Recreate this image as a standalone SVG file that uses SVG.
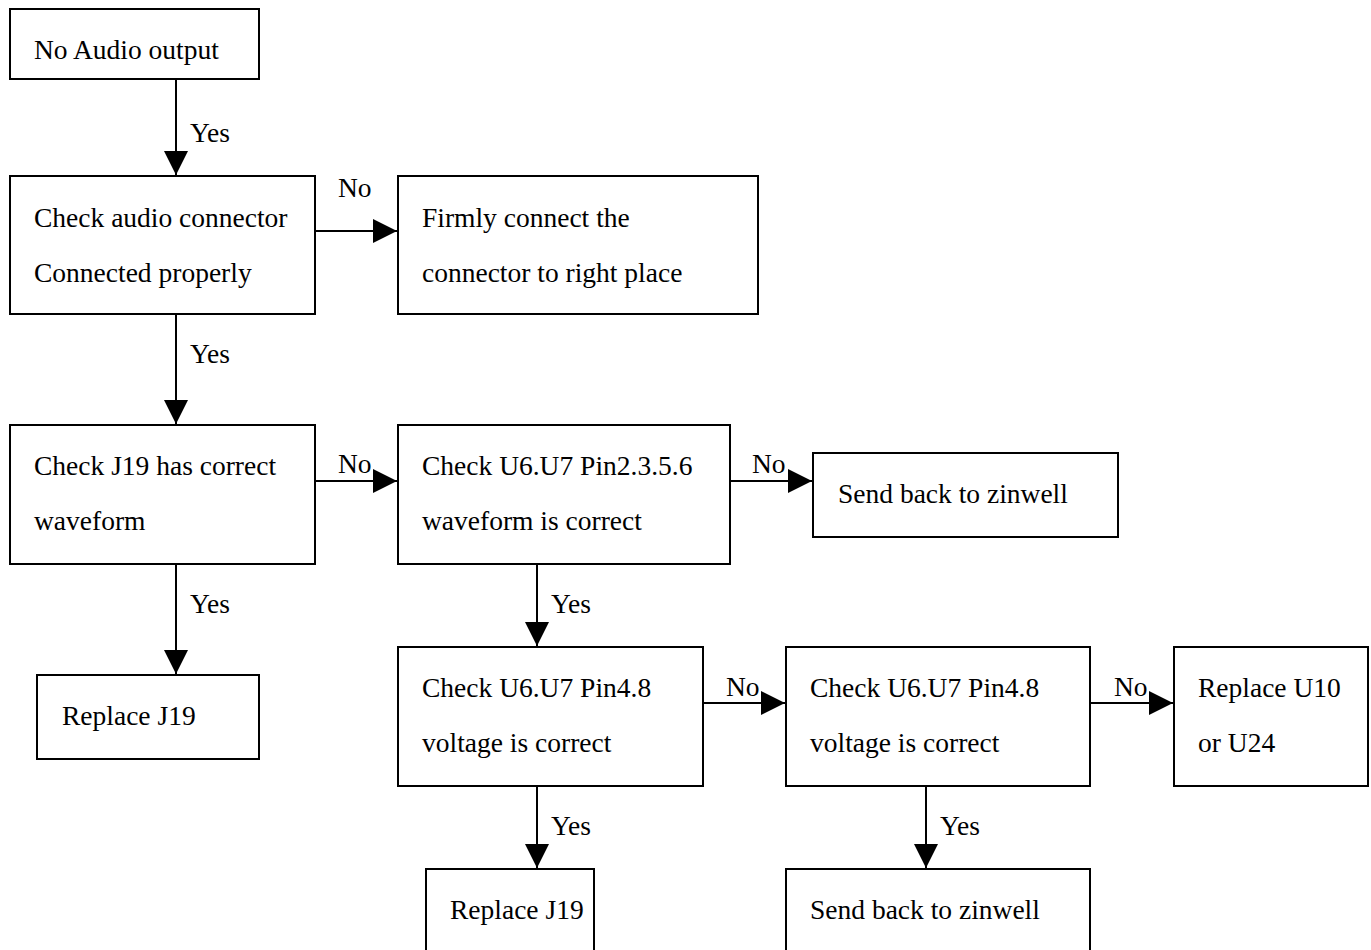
<svg xmlns="http://www.w3.org/2000/svg" width="1371" height="950" viewBox="0 0 1371 950">
<style>
.box{fill:#fff;stroke:#000;stroke-width:2}
.t{font-family:'Liberation Serif','Times New Roman','DejaVu Serif',serif;font-size:27.5px;fill:#000}
.c{stroke:#000;stroke-width:2;fill:none;marker-end:url(#ah)}
</style>
<defs>
<marker id="ah" markerUnits="userSpaceOnUse" markerWidth="24" markerHeight="24" refX="24" refY="12" orient="auto">
<path d="M0,0 L24,12 L0,24 Z" fill="#000"/>
</marker>
</defs>
<rect width="1371" height="950" fill="#fff"/>
<g id="n1"><rect class="box" x="10" y="9" width="249" height="70"/><text class="t" x="34" y="59">No Audio output</text></g>
<g id="n2"><rect class="box" x="10" y="176" width="305" height="138"/><text class="t" x="34" y="227">Check audio connector</text><text class="t" x="34" y="282">Connected properly</text></g>
<g id="n3"><rect class="box" x="398" y="176" width="360" height="138"/><text class="t" x="422" y="227">Firmly connect the</text><text class="t" x="422" y="282">connector to right place</text></g>
<g id="n4"><rect class="box" x="10" y="425" width="305" height="139"/><text class="t" x="34" y="475">Check J19 has correct</text><text class="t" x="34" y="530">waveform</text></g>
<g id="n5"><rect class="box" x="398" y="425" width="332" height="139"/><text class="t" x="422" y="475">Check U6.U7 Pin2.3.5.6</text><text class="t" x="422" y="530">waveform is correct</text></g>
<g id="n6"><rect class="box" x="813" y="453" width="305" height="84"/><text class="t" x="838" y="503">Send back to zinwell</text></g>
<g id="n7"><rect class="box" x="37" y="675" width="222" height="84"/><text class="t" x="62" y="725">Replace J19</text></g>
<g id="n8"><rect class="box" x="398" y="647" width="305" height="139"/><text class="t" x="422" y="697">Check U6.U7 Pin4.8</text><text class="t" x="422" y="752">voltage is correct</text></g>
<g id="n9"><rect class="box" x="786" y="647" width="304" height="139"/><text class="t" x="810" y="697">Check U6.U7 Pin4.8</text><text class="t" x="810" y="752">voltage is correct</text></g>
<g id="n10"><rect class="box" x="1174" y="647" width="194" height="139"/><text class="t" x="1198" y="697">Replace U10</text><text class="t" x="1198" y="752">or U24</text></g>
<g id="n11"><rect class="box" x="426" y="869" width="168" height="90"/><text class="t" x="450" y="919">Replace J19</text></g>
<g id="n12"><rect class="box" x="786" y="869" width="304" height="90"/><text class="t" x="810" y="919">Send back to zinwell</text></g>
<g id="connectors">
<line class="c" x1="176" y1="79" x2="176" y2="175"/>
<text class="t" x="190" y="142">Yes</text>
<line class="c" x1="315" y1="231" x2="397" y2="231"/>
<text class="t" x="338" y="197">No</text>
<line class="c" x1="176" y1="314" x2="176" y2="424"/>
<text class="t" x="190" y="363">Yes</text>
<line class="c" x1="315" y1="481" x2="397" y2="481"/>
<text class="t" x="338" y="473">No</text>
<line class="c" x1="730" y1="481" x2="812" y2="481"/>
<text class="t" x="752" y="473">No</text>
<line class="c" x1="176" y1="564" x2="176" y2="674"/>
<text class="t" x="190" y="613">Yes</text>
<line class="c" x1="537" y1="564" x2="537" y2="646"/>
<text class="t" x="551" y="613">Yes</text>
<line class="c" x1="703" y1="703" x2="785" y2="703"/>
<text class="t" x="726" y="696">No</text>
<line class="c" x1="1090" y1="703" x2="1173" y2="703"/>
<text class="t" x="1114" y="696">No</text>
<line class="c" x1="537" y1="786" x2="537" y2="868"/>
<text class="t" x="551" y="835">Yes</text>
<line class="c" x1="926" y1="786" x2="926" y2="868"/>
<text class="t" x="940" y="835">Yes</text>
</g>
</svg>
